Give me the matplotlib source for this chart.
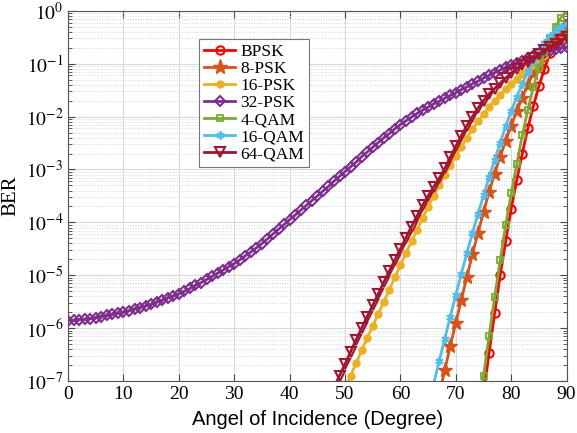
import matplotlib
matplotlib.use("Agg")
import matplotlib.pyplot as plt
import numpy as np
from matplotlib.ticker import LogLocator, NullFormatter

plt.rcParams['font.family'] = ['Liberation Serif', 'DejaVu Serif']
plt.rcParams['mathtext.fontset'] = 'stix'

# log10(BER), one value per degree
ang_32psk = list(range(0, 91))
log_32psk = [-5.86, -5.85, -5.84, -5.83, -5.82, -5.80, -5.78, -5.76, -5.74, -5.72,
             -5.70, -5.67, -5.64, -5.61, -5.58, -5.55, -5.51, -5.47, -5.43, -5.39,
             -5.35, -5.30, -5.25, -5.19, -5.14, -5.08, -5.02, -4.96, -4.90, -4.84,
             -4.78, -4.71, -4.63, -4.56, -4.48, -4.40, -4.31, -4.22, -4.13, -4.04,
             -3.95, -3.86, -3.77, -3.68, -3.59, -3.50, -3.41, -3.32, -3.22, -3.13,
             -3.04, -2.95, -2.86, -2.76, -2.67, -2.58, -2.49, -2.40, -2.32, -2.23,
             -2.15, -2.08, -2.01, -1.94, -1.88, -1.82, -1.76, -1.71, -1.65, -1.60,
             -1.55, -1.49, -1.44, -1.38, -1.33, -1.27, -1.22, -1.17, -1.12, -1.07,
             -1.02, -0.98, -0.94, -0.90, -0.86, -0.82, -0.79, -0.76, -0.73, -0.70,
             -0.68]

ang_64qam = list(range(48, 91))
log_64qam = [-7.12, -6.90, -6.68, -6.45, -6.22, -6.00, -5.78, -5.57, -5.35, -5.13,
             -4.92, -4.71, -4.50, -4.29, -4.08, -3.88, -3.68, -3.50, -3.33, -3.17,
             -2.98, -2.77, -2.56, -2.36, -2.17, -2.00, -1.84, -1.70, -1.57, -1.47,
             -1.37, -1.27, -1.18, -1.10, -1.03, -0.96, -0.89, -0.82, -0.75, -0.69,
             -0.62, -0.56, -0.50]

ang_16psk = list(range(50, 91))
log_16psk = [-7.14, -6.90, -6.66, -6.42, -6.19, -5.96, -5.73, -5.50, -5.27, -5.04,
             -4.81, -4.58, -4.36, -4.14, -3.92, -3.70, -3.50, -3.30, -3.10, -2.92,
             -2.75, -2.57, -2.40, -2.24, -2.09, -1.95, -1.82, -1.70, -1.59, -1.48,
             -1.38, -1.29, -1.20, -1.11, -1.02, -0.93, -0.84, -0.75, -0.66, -0.58,
             -0.50]

ang_16qam = list(range(65, 91))
log_16qam = [-7.48, -7.05, -6.62, -6.20, -5.78, -5.37, -4.97, -4.58, -4.20, -3.84,
             -3.49, -3.15, -2.82, -2.50, -2.18, -1.90, -1.63, -1.38, -1.15, -0.94,
             -0.75, -0.60, -0.47, -0.37, -0.30, -0.25]

ang_8psk = list(range(66, 91))
log_8psk = [-7.70, -7.25, -6.80, -6.33, -5.90, -5.46, -5.03, -4.60, -4.20, -3.80,
            -3.43, -3.08, -2.76, -2.46, -2.17, -1.90, -1.64, -1.40, -1.17, -0.97,
            -0.80, -0.66, -0.54, -0.45, -0.38]

ang_4qam = list(range(74, 91))
log_4qam = [-7.65, -6.90, -6.15, -5.42, -4.72, -4.05, -3.45, -2.90, -2.35, -1.87,
            -1.44, -1.08, -0.78, -0.52, -0.30, -0.13, 0.00]

ang_bpsk = list(range(74, 91))
log_bpsk = [-8.05, -7.25, -6.47, -5.72, -5.00, -4.36, -3.74, -3.20, -2.70, -2.22,
            -1.80, -1.42, -1.10, -0.80, -0.56, -0.37, -0.25]

fig = plt.figure(figsize=(5.77, 4.33), dpi=100)
ax = fig.add_axes([0.118, 0.12, 0.864, 0.855])

ax.semilogy(ang_bpsk, 10.0 ** np.array(log_bpsk), '-o', color='#FF0000', lw=2,
            ms=6, mfc='none', mew=1.5, label='BPSK')
ax.semilogy(ang_8psk, 10.0 ** np.array(log_8psk), '-*', color='#D95319', lw=2,
            ms=11, label='8-PSK')
ax.semilogy(ang_16psk, 10.0 ** np.array(log_16psk), '-o', color='#EDB120', lw=2,
            ms=5, label='16-PSK')
ax.semilogy(ang_32psk, 10.0 ** np.array(log_32psk), '-D', color='#7E2F8E', lw=2,
            ms=5.5, mfc='none', mew=1.5, label='32-PSK')
ax.semilogy(ang_4qam, 10.0 ** np.array(log_4qam), '-s', color='#77AC30', lw=2,
            ms=5, mfc='none', mew=1.3, label='4-QAM')
ax.semilogy(ang_16qam, 10.0 ** np.array(log_16qam), '-', color='#4DBEEE', lw=2,
            marker=(6, 2, 0), ms=6, mew=1.3, label='16-QAM')
ax.semilogy(ang_64qam, 10.0 ** np.array(log_64qam), '-v', color='#A2142F', lw=2,
            ms=7, mfc='none', mew=1.5, label='64-QAM')

ax.set_xlim(0, 90)
ax.set_ylim(1e-7, 1)
ax.set_xticks(range(0, 91, 10))
ax.set_yticks([10.0 ** k for k in range(-7, 1)])
ax.set_yticklabels([r'$10^{%d}$' % k for k in range(-7, 1)])
ax.yaxis.set_minor_locator(LogLocator(base=10, subs=np.arange(2, 10), numticks=20))
ax.yaxis.set_minor_formatter(NullFormatter())
ax.tick_params(axis='both', which='both', direction='in', top=True, right=True,
               labelsize=14, color='#444444')
ax.tick_params(which='major', length=5)
ax.tick_params(which='minor', length=3)

ax.grid(True, which='major', color='#d9d9d9', lw=0.8)
ax.grid(True, which='minor', axis='y', color='#d9d9d9', lw=0.7, ls=':')
ax.set_axisbelow(True)
for s in ax.spines.values():
    s.set_color('#555555')

ax.set_xlabel('Angel of Incidence (Degree)', family=['Liberation Sans', 'DejaVu Sans'],
              fontsize=14.5, labelpad=5)
ax.set_ylabel('BER', fontsize=15, labelpad=4)

leg = ax.legend(loc='upper left', bbox_to_anchor=(0.262, 0.925), borderaxespad=0,
                fontsize=12.5, frameon=True, fancybox=False, edgecolor='#777777',
                framealpha=1, handlelength=1.8, handletextpad=0.3, borderpad=0.3,
                labelspacing=0.05)
leg.get_frame().set_linewidth(0.8)

fig.savefig('out.png', dpi=100)
